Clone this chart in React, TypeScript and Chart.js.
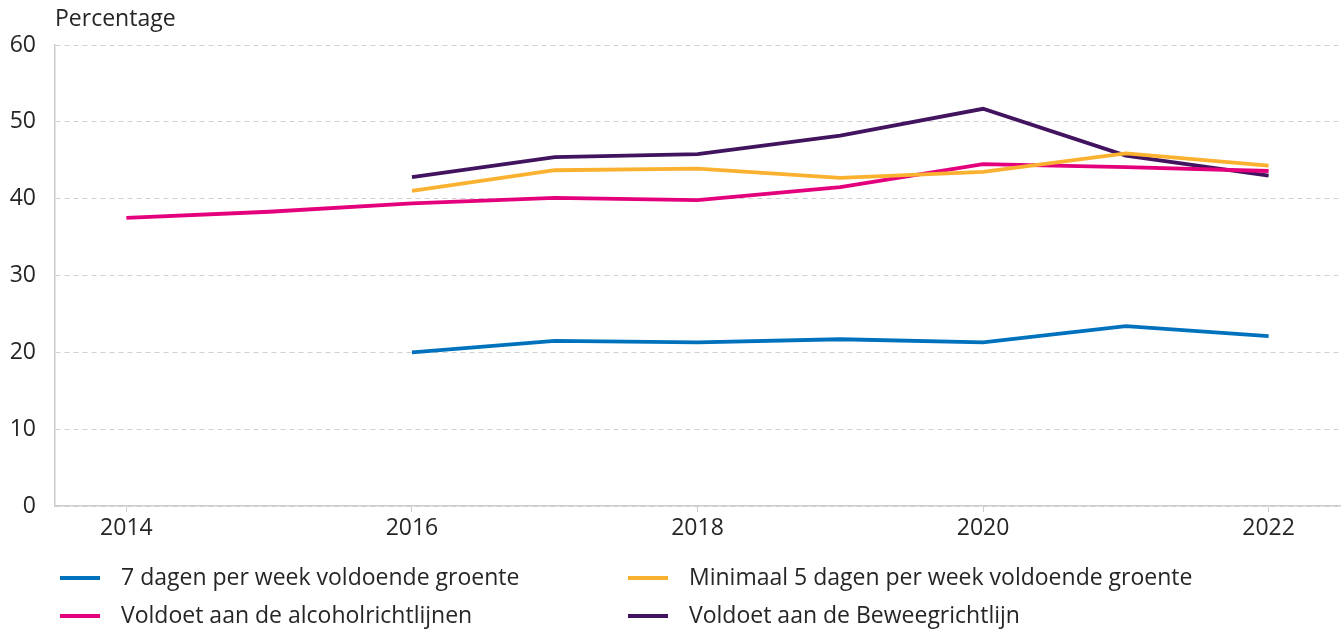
import React, { useEffect, useRef } from "react";
import { Chart, registerables } from "chart.js";

Chart.register(...registerables);

const years = [2014, 2015, 2016, 2017, 2018, 2019, 2020, 2021, 2022];
const xTicks = [2014, 2016, 2018, 2020, 2022];
const groente7 = [null, null, 20.0, 21.5, 21.3, 21.7, 21.3, 23.4, 22.1];
const groente5 = [null, null, 41.0, 43.7, 43.9, 42.7, 43.5, 45.9, 44.3];
const alcohol = [37.5, 38.3, 39.4, 40.1, 39.8, 41.5, 44.5, 44.1, 43.6];
const beweeg = [null, null, 42.8, 45.4, 45.8, 48.2, 51.7, 45.6, 43.0];
const seriesLabels = [
  "7 dagen per week voldoende groente",
  "Minimaal 5 dagen per week voldoende groente",
  "Voldoet aan de alcoholrichtlijnen",
  "Voldoet aan de Beweegrichtlijn",
];
const seriesColors = ["#0071bc", "#fbb130", "#e4007c", "#42145f"];
const yTitle = "Percentage";

const FONT = "'Open Sans', sans-serif";
const TEXT = "#262626";
const SIZE = 23;

const toPoints = (vals: (number | null)[]) =>
  years.map((y, i) => ({ x: y, y: vals[i] }));

const overlayPlugin = {
  id: "overlay",
  afterDraw(chart: any) {
    const { ctx, chartArea } = chart;
    ctx.save();
    ctx.fillStyle = TEXT;
    ctx.font = `${SIZE}px ${FONT}`;
    ctx.textBaseline = "middle";
    ctx.textAlign = "left";
    ctx.fillText(yTitle, chartArea.left, 19);
    const colMarkerX = [60, 628];
    const rowY = [578, 616];
    chart.data.datasets.forEach((ds: any, i: number) => {
      const col = i % 2;
      const row = Math.floor(i / 2);
      const mx = colMarkerX[col];
      const my = rowY[row];
      ctx.strokeStyle = ds.borderColor;
      ctx.lineWidth = 4;
      ctx.beginPath();
      ctx.moveTo(mx, my);
      ctx.lineTo(mx + 40, my);
      ctx.stroke();
      ctx.fillStyle = TEXT;
      ctx.fillText(ds.label, mx + 61, my);
    });
    ctx.restore();
  },
};

export default function App() {
  const ref = useRef<HTMLCanvasElement>(null);
  useEffect(() => {
    const data = [groente7, groente5, alcohol, beweeg];
    const chart = new Chart(ref.current!, {
      type: "line",
      data: {
        datasets: data.map((vals, i) => ({
          label: seriesLabels[i],
          data: toPoints(vals),
          borderColor: seriesColors[i],
          backgroundColor: seriesColors[i],
          borderWidth: 3.8,
          pointRadius: 0,
          tension: 0,
          fill: false,
        })),
      },
      options: {
        animation: false,
        responsive: true,
        maintainAspectRatio: false,
        layout: { padding: { left: 8, top: 45, right: 3, bottom: 80 } },
        plugins: {
          legend: { display: false },
          tooltip: { enabled: false },
        },
        scales: {
          x: {
            type: "linear",
            min: 2013.5,
            max: 2022.5,
            afterBuildTicks: (s: any) => {
              s.ticks = xTicks.map((v) => ({ value: v }));
            },
            afterFit: (s: any) => {
              s.height = 46;
            },
            grid: {
              drawOnChartArea: false,
              drawTicks: true,
              tickLength: 6,
              color: "#cccccc",
            },
            border: { color: "#cccccc", width: 1.5 },
            ticks: {
              padding: 3,
              color: TEXT,
              font: { family: FONT, size: SIZE },
              callback: (v: any) => String(v),
              autoSkip: false,
              maxRotation: 0,
            },
          },
          y: {
            min: 0,
            max: 60,
            afterFit: (s: any) => {
              s.width = 47;
            },
            grid: {
              color: "#d0d0d0",
              drawTicks: false,
              lineWidth: 1,
            },
            border: { color: "#cccccc", width: 1.5, dash: [5, 4] },
            ticks: {
              stepSize: 10,
              padding: 19,
              color: TEXT,
              font: { family: FONT, size: SIZE },
            },
          },
        },
      },
      plugins: [overlayPlugin],
    });
    return () => chart.destroy();
  }, []);
  return (
    <div style={{ position: "fixed", left: 0, top: 0, width: "100vw", height: "100vh" }}>
      <canvas ref={ref} />
    </div>
  );
}
